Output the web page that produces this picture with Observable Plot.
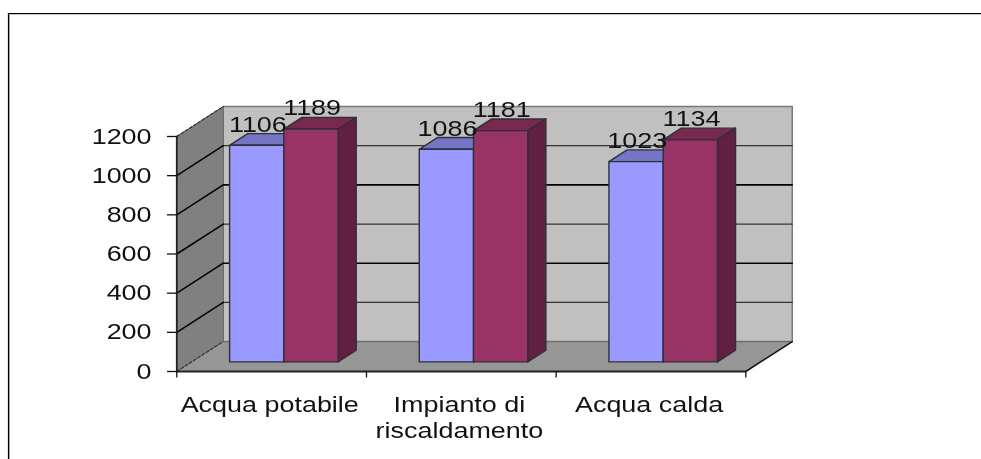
<!DOCTYPE html>
<html>
<head>
<meta charset="utf-8">
<script src="https://cdn.jsdelivr.net/npm/d3@7"></script>
<script src="https://cdn.jsdelivr.net/npm/@observablehq/plot@0.6"></script>
<style>
html,body{margin:0;padding:0;background:#fff;overflow:hidden}
svg{display:block}
</style>
</head>
<body>
<div id="chart"></div>
<script>
const categories = ["Acqua potabile", "Impianto di\nriscaldamento", "Acqua calda"];
const seriesA = [1106, 1086, 1023];
const seriesB = [1189, 1181, 1134];
const yTicks = [0, 200, 400, 600, 800, 1000, 1200];
const gridStrong = [400, 800];
const gridWeak = [200, 600, 1000];

// oblique projection, in data units: full depth of the chart box
const depthX = 0.245, depthY = 153;
const barStart = 0.2, barWidth = 0.286, barNear = 0.32, barFar = 0.71;
const P = (c, v, d = 0) => ({x: c + d * depthX, y: v + d * depthY});
const face = (id, pts) => pts.map(p => ({...p, id}));

function barFaces(values, slot) {
  const front = [], top = [], side = [];
  values.forEach((v, i) => {
    const a = i + barStart + slot * barWidth, b = a + barWidth;
    front.push(...face(i, [P(a,0,barNear),P(b,0,barNear),P(b,v,barNear),P(a,v,barNear)]));
    top.push(...face(i, [P(a,v,barNear),P(b,v,barNear),P(b,v,barFar),P(a,v,barFar)]));
    side.push(...face(i, [P(b,0,barNear),P(b,v,barNear),P(b,v,barFar),P(b,0,barFar)]));
  });
  return {front, top, side};
}
const blue = barFaces(seriesA, 0), red = barFaces(seriesB, 1);

const polygon = (data, fill, stroke = "#2f2f3a", strokeWidth = 1.4) =>
  Plot.line(data, {x: "x", y: "y", z: "id", fill, stroke, strokeWidth, curve: "linear-closed", strokeLinejoin: "round"});
const seg = (pts, stroke, strokeWidth, extra = {}) =>
  Plot.line(pts, {x: "x", y: "y", stroke, strokeWidth, ...extra});

const maxV = yTicks[yTicks.length - 1];
const labelRows = [
  ...seriesA.map((v, i) => ({v, i, slot: 0})),
  ...seriesB.map((v, i) => ({v, i, slot: 1}))
];
const textStyle = {fontSize: 22, fontFamily: "Liberation Sans", fill: "#111"};

const plot = Plot.plot({
  width: 981, height: 459,
  marginTop: 13, marginLeft: 8, marginRight: 0, marginBottom: 0,
  x: {domain: [0, 3], range: [176.3, 745.3], axis: null},
  y: {domain: [0, maxV], range: [371, 136], axis: null},
  marks: [
    Plot.frame({anchor: "top", stroke: "#c8c8c8", strokeWidth: 1, dy: 1}),
    Plot.frame({anchor: "left", stroke: "#b8b8b8", strokeWidth: 1, dx: 1}),
    Plot.frame({anchor: "top", stroke: "#000", strokeWidth: 1.2}),
    Plot.frame({anchor: "left", stroke: "#000", strokeWidth: 1.2}),

    // back wall, side wall, floor
    polygon(face(0, [P(0,0,1),P(3,0,1),P(3,maxV,1),P(0,maxV,1)]), "#c0c0c0", "#7a7a7a", 1.5),
    polygon(face(0, [P(0,0,0),P(0,0,1),P(0,maxV,1),P(0,maxV,0)]), "#808080", "#6a6a6a", 1),
    polygon(face(0, [P(0,0,0),P(3,0,0),P(3,0,1),P(0,0,1)]), "#969696", "none", 0),

    // gridlines: back wall then side wall
    ...gridStrong.map(v => seg([P(0,v,1),P(3,v,1)], "#000", 1.6)),
    ...gridWeak.map(v => seg([P(0,v,1),P(3,v,1)], "#333", 1.3)),
    ...[...gridStrong, ...gridWeak].map(v => seg([P(0,v,0),P(0,v,1)], "#000", 1.5)),
    seg([P(0,0,0),P(0,0,1)], "#333", 1.2, {strokeDasharray: "3,2"}),
    seg([P(0,maxV,0),P(0,maxV,1)], "#333", 1.2, {strokeDasharray: "3,2"}),
    seg([P(0,0,1),P(3,0,1)], "#6e6e6e", 1.2),
    seg([P(3,0,0),P(3,0,1)], "#111", 1.5),
    seg([P(0,0,0),P(0,maxV,0)], "#222", 1.8),
    seg([P(0,0,0),P(3,0,0)], "#222", 2.2),

    // axes
    Plot.ruleX([0, 1, 2, 3], {x: d => d, y1: 0, y2: -33, stroke: "#111", strokeWidth: 1.3}),
    Plot.ruleY(yTicks, {y: d => d, x1: -0.049, x2: 0, stroke: "#111", strokeWidth: 1.3}),

    // bars
    polygon(blue.top, "#7575c6"),
    polygon(blue.side, "#6a6ab0"),
    polygon(blue.front, "#9999ff"),
    polygon(red.top, "#78274f"),
    polygon(red.side, "#61203f"),
    polygon(red.front, "#993366"),

    // text
    Plot.text(yTicks, {
      y: d => d, x: -0.133, text: d => String(d), textAnchor: "end",
      lineAnchor: "middle", ...textStyle
    }),
    Plot.text(categories, {
      x: (d, i) => i + 0.49, y: -111, text: d => d, textAnchor: "middle",
      lineAnchor: "top", lineHeight: 1.18, ...textStyle
    }),
    Plot.text(labelRows, {
      x: d => d.i + barStart + (d.slot + 0.5) * barWidth + barNear * depthX + 0.006,
      y: d => d.v + barFar * depthY,
      text: d => String(d.v), textAnchor: "middle", lineAnchor: "bottom", dy: -2,
      ...textStyle
    })
  ]
});

// the reference text is horizontally stretched
plot.querySelectorAll("text").forEach(t => {
  const tr = t.getAttribute("transform") || "";
  t.setAttribute("transform", tr + " scale(1.225,1)");
});
// the reference is a soft, resampled bitmap (its page frame stays crisp)
const layers = [...plot.children].filter(el => el.tagName !== "style");
layers.slice(4).forEach(el => { el.style.filter = "blur(0.45px)"; });
document.getElementById("chart").append(plot);
</script>
</body>
</html>
